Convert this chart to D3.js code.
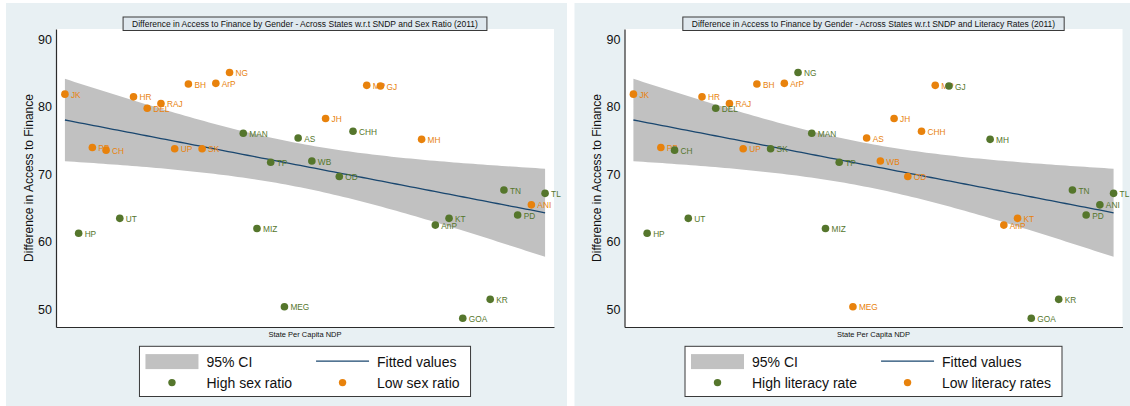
<!DOCTYPE html>
<html>
<head>
<meta charset="utf-8">
<script src="https://cdn.jsdelivr.net/npm/d3@7"></script>
<style>
  body { margin: 0; background: #fff; }
  svg { display: block; }
  text { font-family: "Liberation Sans", Arial, Helvetica, sans-serif; }
</style>
</head>
<body>
<svg id="chart" width="1130" height="406"></svg>
<script>
// State abbreviations, in order of per-capita NDP position
const states = ["JK","HP","PB","CH","UT","HR","DEL","RAJ","UP","BH","SK","ArP","NG","MAN","MIZ","TP","MEG",
                "AS","WB","JH","OD","CHH","MP","GJ","MH","AnP","KT","GOA","KR","TN","PD","ANI","TL"];
// Position of each state along the State Per Capita NDP axis
const ndpRank = [1,2,3,4,5,6,7,8,9,10,11,12,13,14,15,16,17,18,19,20,21,22,23,24,27,28,29,30,32,33,34,35,36];
// Difference in access to finance by gender
const financeGap = [81.9,61.3,74.0,73.6,63.5,81.5,79.8,80.5,73.8,83.4,73.8,83.5,85.1,76.1,62.0,71.8,50.4,
                    75.4,72.0,78.3,69.7,76.4,83.2,83.1,75.2,62.5,63.5,48.7,51.5,67.7,64.0,65.5,67.2];
// Group flags: 1 = high, 0 = low
const highSexRatio = [0,1,0,0,1,0,0,0,0,0,0,0,0,1,1,1,1,1,1,0,1,1,0,0,0,1,1,1,1,1,1,0,1];
const highLiteracy = [0,1,0,1,1,0,1,0,0,0,1,0,1,1,1,1,0,0,0,0,0,0,0,1,1,0,0,1,1,1,1,1,1];

const yTicks = [50, 60, 70, 80, 90];
const titles = [
  "Difference in Access to Finance by Gender - Across States w.r.t SNDP and Sex Ratio (2011)",
  "Difference in Access to Finance by Gender - Across States w.r.t SNDP and Literacy Rates (2011)"
];
const groupLabels = [
  ["High sex ratio", "Low sex ratio"],
  ["High literacy rate", "Low literacy rates"]
];

const COLORS = {
  bg: "#e8f0f3", high: "#55762c", low: "#e8820c", line: "#1a476f", ci: "#c1c1c1", axis: "#2b2b2b"
};

const svg = d3.select("#chart");
const rows = states.map((s, i) => ({ state: s, x: ndpRank[i], y: financeGap[i] }));

// Linear fit with 95% confidence band for the mean prediction
const n = rows.length;
const xbar = d3.mean(rows, d => d.x), ybar = d3.mean(rows, d => d.y);
const sxx = d3.sum(rows, d => (d.x - xbar) ** 2);
const sxy = d3.sum(rows, d => (d.x - xbar) * (d.y - ybar));
const slope = sxy / sxx, intercept = ybar - slope * xbar;
const sse = d3.sum(rows, d => (d.y - (intercept + slope * d.x)) ** 2);
const sigma = Math.sqrt(sse / (n - 2));
const tCrit = 2.0395; // t(0.975, 31)
const xMin = d3.min(ndpRank), xMax = d3.max(ndpRank);
const band = d3.range(0, 101).map(k => {
  const xv = xMin + (xMax - xMin) * k / 100;
  const fit = intercept + slope * xv;
  const se = sigma * Math.sqrt(1 / n + (xv - xbar) ** 2 / sxx);
  return { x: xv, fit, lo: fit - tCrit * se, hi: fit + tCrit * se };
});

function drawPanel(idx, ox, flags) {
  const g = svg.append("g").attr("transform", `translate(${ox},0)`);
  const L = 56, R = 554, T = 29, B = 327;

  g.append("rect").attr("x", 6).attr("y", 3).attr("width", 561).attr("height", 403).attr("fill", COLORS.bg);
  g.append("rect").attr("x", L).attr("y", T).attr("width", R - L).attr("height", B - T).attr("fill", "#fff");

  const x = d3.scaleLinear().domain([0.35, 36.65]).range([L, R]);
  const y = d3.scaleLinear().domain([47.4, 91.55]).range([B, T]);

  // CI band and fitted line
  g.append("path").datum(band)
    .attr("d", d3.area().x(d => x(d.x)).y0(d => y(d.lo)).y1(d => y(d.hi)))
    .attr("fill", COLORS.ci);
  g.append("path").datum(band)
    .attr("d", d3.line().x(d => x(d.x)).y(d => y(d.fit)))
    .attr("fill", "none").attr("stroke", COLORS.line).attr("stroke-width", 1.3);

  // Axes
  const ya = g.append("g").attr("transform", `translate(${L},0)`)
    .call(d3.axisLeft(y).tickValues(yTicks).tickSize(0).tickSizeOuter(0).tickPadding(4));
  ya.select(".domain").attr("stroke", COLORS.axis).attr("stroke-width", 1.2);
  ya.selectAll("text").attr("font-size", 12.5).attr("fill", "#111")
    .attr("font-family", '"Liberation Sans", Arial, sans-serif');
  const xa = g.append("g").attr("transform", `translate(0,${B})`)
    .call(d3.axisBottom(x).tickValues([]).tickSize(0).tickSizeOuter(0));
  xa.select(".domain").attr("stroke", COLORS.axis).attr("stroke-width", 1.2);

  g.append("text").attr("x", (L + R) / 2).attr("y", 334.5)
    .attr("text-anchor", "middle").attr("dominant-baseline", "central")
    .attr("font-size", 7.5).attr("fill", "#111").text("State Per Capita NDP");
  g.append("text").attr("transform", `translate(28.5,${(T + B) / 2}) rotate(-90)`)
    .attr("text-anchor", "middle").attr("dominant-baseline", "central")
    .attr("font-size", 12).attr("fill", "#111").text("Difference in Access to Finance");

  // Points with state labels: low group first, high group on top
  const pts = rows.map((d, i) => ({ ...d, high: flags[i] === 1 }));
  [false, true].forEach(grp => {
    const sub = pts.filter(d => d.high === grp);
    const col = grp ? COLORS.high : COLORS.low;
    const pg = g.append("g");
    sub.forEach(d => {
      pg.append("circle").attr("cx", x(d.x)).attr("cy", y(d.y)).attr("r", 3.8).attr("fill", col);
      pg.append("text").attr("x", x(d.x) + 6).attr("y", y(d.y) + 0.6)
        .attr("dominant-baseline", "central").attr("font-size", 8.3).attr("fill", col).text(d.state);
    });
  });

  // Title box
  const cx = (L + R) / 2;
  const tb = g.append("rect").attr("y", 17).attr("height", 13.5)
    .attr("fill", "#dfe8ee").attr("stroke", "#3a3a3a").attr("stroke-width", 1);
  const tt = g.append("text").attr("x", cx).attr("y", 23.9)
    .attr("text-anchor", "middle").attr("dominant-baseline", "central")
    .attr("font-size", 8.5).attr("fill", "#111").text(titles[idx]);
  const tw = tt.node().getComputedTextLength();
  tb.attr("x", cx - tw / 2 - 9).attr("width", tw + 18);

  // Legend
  const lg = g.append("g");
  const box = lg.append("rect").attr("y", 346.3).attr("height", 50.2)
    .attr("fill", "#fff").attr("stroke", "#3a3a3a").attr("stroke-width", 1);
  const r1 = 361.6, r2 = 382.6, fs = 14;
  const mk = (t, xx, yy) => lg.append("text").attr("x", xx).attr("y", yy)
    .attr("dominant-baseline", "central").attr("font-size", fs).attr("fill", "#111").text(t);
  const c1a = mk("95% CI", 0, r1), c1b = mk(groupLabels[idx][0], 0, r2);
  const c2a = mk("Fitted values", 0, r1), c2b = mk(groupLabels[idx][1], 0, r2);
  const w1 = Math.max(c1a.node().getComputedTextLength(), c1b.node().getComputedTextLength());
  const w2 = Math.max(c2a.node().getComputedTextLength(), c2b.node().getComputedTextLength());
  const padL = 6, sw = 53, gap = 8, colGap = 24, padR = 11;
  const total = padL + sw + gap + w1 + colGap + sw + gap + w2 + padR;
  const x0 = cx - total / 2;
  box.attr("x", x0).attr("width", total);
  const s1 = x0 + padL, t1 = s1 + sw + gap, s2 = t1 + w1 + colGap, t2 = s2 + sw + gap;
  lg.append("rect").attr("x", s1).attr("y", r1 - 7.5).attr("width", sw).attr("height", 15).attr("fill", COLORS.ci);
  lg.append("line").attr("x1", s2).attr("x2", s2 + sw).attr("y1", r1 - 0.5).attr("y2", r1 - 0.5)
    .attr("stroke", COLORS.line).attr("stroke-width", 1.3);
  lg.append("circle").attr("cx", s1 + sw / 2).attr("cy", r2).attr("r", 3.7).attr("fill", COLORS.high);
  lg.append("circle").attr("cx", s2 + sw / 2).attr("cy", r2).attr("r", 3.7).attr("fill", COLORS.low);
  c1a.attr("x", t1); c1b.attr("x", t1); c2a.attr("x", t2); c2b.attr("x", t2);
}

drawPanel(0, 0, highSexRatio);
drawPanel(1, 568.5, highLiteracy);
</script>
</body>
</html>
